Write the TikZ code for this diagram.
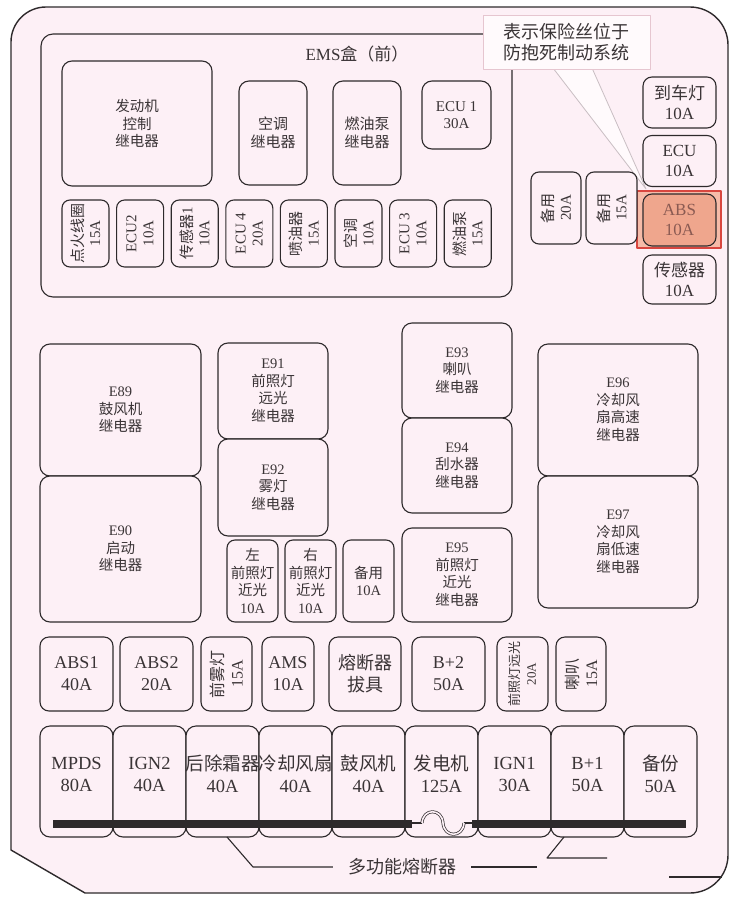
\documentclass[tikz,border=0pt]{standalone}
\usepackage{fontspec}
\setmainfont{Liberation Serif}
\newfontfamily\cjk{Noto Sans CJK SC}
\newcommand\zh[1]{{\cjk #1}}
\usetikzlibrary{positioning}
\definecolor{bgpink}{HTML}{FDF0F6}
\definecolor{linec}{HTML}{2E2A2C}
\definecolor{txtc}{HTML}{3A3436}
\definecolor{hlfill}{HTML}{F6BBA8}
\definecolor{hldraw}{HTML}{D8463F}
\definecolor{absfill}{HTML}{EFA68D}
\definecolor{abstxt}{HTML}{8A5A52}
\definecolor{calldraw}{HTML}{E6C6D0}
\definecolor{callfill}{HTML}{FFFAFC}
\definecolor{tailc}{HTML}{C9BEC3}

\begin{document}
\begin{tikzpicture}[x=1pt,y=-1pt,line join=round,
  sz/.style 2 args={minimum width=#1pt,minimum height=#2pt},
  relay/.style={draw=linec,fill=bgpink,line width=1.1pt,rounded corners=10pt,
    align=center,inner sep=0pt,text=txtc,font=\fontsize{14.5}{17.5}\selectfont},
  fuse/.style={relay,rounded corners=8pt,font=\fontsize{15}{17}\selectfont},
  bigfuse/.style={relay,rounded corners=9pt,font=\fontsize{18}{22}\selectfont},
  cell/.style={relay,rounded corners=10pt},
  celltxt/.style={align=center,inner sep=0pt,text=txtc,font=\fontsize{18.5}{22}\selectfont},
  sidefuse/.style={relay,rounded corners=9pt,font=\fontsize{17}{20}\selectfont},
  leader/.style={draw=linec,line width=1.1pt}]
\useasboundingbox (0,0) rectangle (741,902);
\fill[white] (0,0) rectangle (741,902);

% outer frame
\draw[draw=linec,fill=bgpink,line width=1.4pt] (85,893) -- (11,850) -- (11,42)
  arc(180:270:35) -- (690,7) arc(-90:0:38) -- (728,855) arc(0:90:38) -- cycle;

% EMS box
\node[relay,rounded corners=12pt,sz={471}{263}] (ems) at (276.5,165.5) {};
\node[text=txtc,inner sep=0pt,font=\fontsize{17}{20}\selectfont] (emst) at (357,54) {EMS\zh{盒（前）}};
\node[relay,sz={150}{125}] (1) at (137,123.5) {\zh{发动机}\\\zh{控制}\\\zh{继电器}};
\node[relay,sz={68}{104},font=\fontsize{15}{18}\selectfont] (2) at (273,133) {\zh{空调}\\\zh{继电器}};
\node[relay,sz={68}{104},font=\fontsize{15}{18}\selectfont] (3) at (367,133) {\zh{燃油泵}\\\zh{继电器}};
\node[relay,sz={69}{68},font=\fontsize{15}{17.5}\selectfont] (4) at (456.5,115) {ECU 1\\30A};
\foreach \t [count=\i from 0] in {{\zh{点火线圈}\\15A},{ECU2\\10A},{\zh{传感器}1\\10A},
  {ECU 4\\20A},{\zh{喷油器}\\15A},{\zh{空调}\\10A},{ECU 3\\10A},{\zh{燃油泵}\\15A}}
  \node[fuse,rotate=90,sz={67}{47}] (ef\i) at ({85.5+54.6*\i},233.5) {\t};

% callout
\filldraw[fill=callfill,draw=tailc,line width=0.8pt] (553,68) -- (646,189) -- (592,68);
\node[draw=calldraw,fill=callfill,line width=0.9pt,sz={167}{54},inner sep=0pt,align=center,
  text=txtc,font=\fontsize{18}{21}\selectfont] (call) at (566.5,42) {\zh{表示保险丝位于}\\\zh{防抱死制动系统}};

% right column
\node[sidefuse,sz={73}{51}] (5) at (679.5,102.5) {\zh{到车灯}\\10A};
\node[sidefuse,sz={73}{51}] (6) at (679.5,161) {ECU\\10A};
\fill[hlfill,draw=hldraw,line width=1.2pt] (637,191) rectangle (721,248);
\node[sidefuse,fill=absfill,text=abstxt,sz={73}{52}] (7) at (679.5,220) {ABS\\10A};
\node[sidefuse,sz={73}{49}] (8) at (679.5,279.5) {\zh{传感器}\\10A};
\node[fuse,rotate=90,sz={72}{50}] (9) at (556,208) {\zh{备用}\\20A};
\node[fuse,rotate=90,sz={72}{51}] (10) at (611.5,208) {\zh{备用}\\15A};

% relays
\node[relay,sz={161}{132}] (e89) at (120.5,410) {E89\\\zh{鼓风机}\\\zh{继电器}};
\node[relay,sz={161}{146}] (e90) at (120.5,549) {E90\\\zh{启动}\\\zh{继电器}};
\node[relay,sz={110}{96}] (e91) at (273,391) {E91\\\zh{前照灯}\\\zh{远光}\\\zh{继电器}};
\node[relay,sz={110}{97}] (e92) at (273,487.5) {E92\\\zh{雾灯}\\\zh{继电器}};
\node[relay,sz={51}{82},rounded corners=8pt] (11) at (252.5,581) {\zh{左}\\\zh{前照灯}\\\zh{近光}\\10A};
\node[relay,sz={51}{82},rounded corners=8pt] (12) at (310.5,581) {\zh{右}\\\zh{前照灯}\\\zh{近光}\\10A};
\node[relay,sz={51}{82},rounded corners=8pt] (13) at (368.5,581) {\zh{备用}\\10A};
\node[relay,sz={110}{95}] (e93) at (457,370.5) {E93\\\zh{喇叭}\\\zh{继电器}};
\node[relay,sz={110}{95}] (e94) at (457,465.5) {E94\\\zh{刮水器}\\\zh{继电器}};
\node[relay,sz={110}{94}] (e95) at (457,575) {E95\\\zh{前照灯}\\\zh{近光}\\\zh{继电器}};
\node[relay,sz={160}{132}] (e96) at (618,410) {E96\\\zh{冷却风}\\\zh{扇高速}\\\zh{继电器}};
\node[relay,sz={160}{132}] (e97) at (618,542) {E97\\\zh{冷却风}\\\zh{扇低速}\\\zh{继电器}};

% fuse row
\node[bigfuse,sz={73}{74}] (14) at (76.5,674) {ABS1\\40A};
\node[bigfuse,sz={73}{74}] (15) at (156.5,674) {ABS2\\20A};
\node[bigfuse,rotate=90,sz={74}{51},font=\fontsize{16}{19}\selectfont] (16) at (226.5,674) {\zh{前雾灯}\\15A};
\node[bigfuse,sz={52}{74}] (17) at (288,674) {AMS\\10A};
\node[bigfuse,sz={72}{74}] (18) at (365,674) {\zh{熔断器}\\\zh{拔具}};
\node[bigfuse,sz={73}{74}] (19) at (448.5,674) {B+2\\50A};
\node[bigfuse,rotate=90,sz={74}{51},font=\fontsize{13}{16}\selectfont] (20) at (522.5,674) {\zh{前照灯远光}\\20A};
\node[bigfuse,rotate=90,sz={74}{50},font=\fontsize{16}{19}\selectfont] (21) at (581,674) {\zh{喇叭}\\15A};

% multi-function fuse
\foreach \t [count=\i from 0] in {{MPDS\\80A},{IGN2\\40A},{\zh{后除霜器}\\40A},{\zh{冷却风扇}\\40A},
  {\zh{鼓风机}\\40A},{\zh{发电机}\\125A},{IGN1\\30A},{B+1\\50A},{\zh{备份}\\50A}}{
  \node[cell,sz={73}{111}] (m\i) at ({76.5+73*\i},781.5) {};
  \node[celltxt] (mt\i) at ([yshift=7.5pt]m\i.center) {\t};
}
\draw[linec,line width=8pt] (53,824) -- (412,824);
\draw[linec,line width=8pt] (472,824) -- (686,824);
\draw[linec,line width=2pt] (410,823) -- (422,823);
\draw[linec,line width=2pt] (464,823) -- (474,823);
\draw[linec,line width=0.7pt,double=bgpink,double distance=1.6pt]
  (422,823) .. controls (423,808) and (442,808) .. (443,823)
  .. controls (444,838) and (463,838) .. (464,823);

% leaders
\node[text=txtc,inner sep=0pt,font=\fontsize{18}{21}\selectfont] (mf) at (402,867) {\zh{多功能熔断器}};
\coordinate (la) at (227,837);
\coordinate (lb) at (253,867);
\coordinate (lc) at (537,867);
\coordinate (ld) at (564,837);
\coordinate (le) at (547,858);
\coordinate (lf) at (607,858);
\draw[leader] (la) -- (lb) -- ([xshift=-15pt]mf.west);
\draw[leader] ([xshift=15pt]mf.east) -- (lc);
\draw[leader] (ld) -- (le) -- (lf);
\coordinate (lg) at (669,877);
\coordinate (lh) at (722,877);
\draw[leader] (lg) -- (lh);
\end{tikzpicture}
\end{document}
